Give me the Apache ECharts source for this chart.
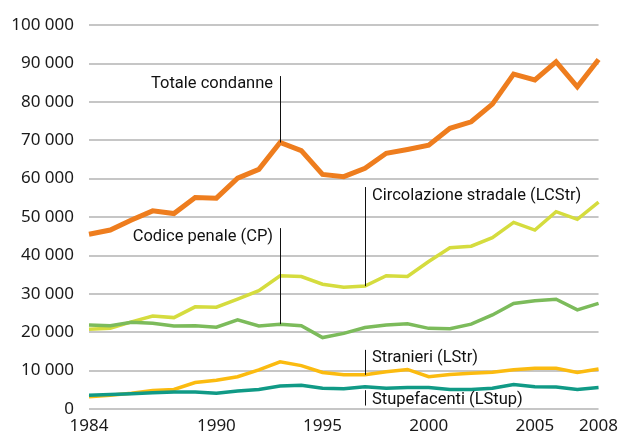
<!DOCTYPE html>
<html>
<head>
<meta charset="utf-8">
<script src="https://cdn.jsdelivr.net/npm/echarts@6/dist/echarts.min.js"></script>
<style>
  html, body { margin: 0; padding: 0; background: #fff; }
  #chart { width: 621px; height: 444px; }
</style>
</head>
<body>
<div id="chart"></div>
<script>
var years = ['1984','1985','1986','1987','1988','1989','1990','1991','1992','1993','1994','1995','1996',
             '1997','1998','1999','2000','2001','2002','2003','2004','2005','2006','2007','2008'];
var yearLabels = ['1984','1990','1995','2000','2005','2008'];

var totale = [45500,46600,49200,51600,50900,55100,54900,60100,62400,69400,67300,61100,60500,
              62700,66600,67600,68700,73100,74800,79400,87200,85700,90400,83900,91000];
var circolazione = [20750,21000,22700,24200,23800,26600,26500,28600,30800,34700,34500,32500,31700,
                    32000,34700,34500,38400,42000,42400,44600,48600,46600,51400,49400,53900];
var codicePenale = [21900,21700,22600,22300,21600,21700,21300,23200,21600,22100,21700,18600,19700,
                    21200,21900,22200,21000,20900,22100,24500,27500,28200,28600,25800,27500];
var stranieri = [3200,3600,4100,4800,5100,6900,7500,8400,10200,12300,11300,9500,8900,
                 8900,9700,10300,8400,9000,9300,9600,10200,10600,10600,9500,10400];
var stupefacenti = [3600,3800,4000,4200,4400,4400,4100,4700,5100,6000,6200,5400,5300,
                    5800,5400,5600,5600,5100,5100,5400,6400,5800,5700,5100,5600];

// condensed look of the annotations: Roboto is the narrowest installed face
var annoFont = "Roboto, 'Liberation Sans', sans-serif";

function note(year, from, to, textY, text, side) {
  return {
    markLine: {
      silent: true,
      symbol: 'none',
      lineStyle: { color: '#111', width: 1, type: 'solid' },
      label: { show: false },
      data: [[{ coord: [year, from] }, { coord: [year, to] }]]
    },
    markPoint: {
      silent: true,
      symbol: 'circle',
      symbolSize: 0,
      data: [{ coord: [year, textY] }],
      label: {
        show: true,
        position: side,
        distance: 7,
        formatter: text,
        color: '#111',
        fontSize: 16.5,
        fontFamily: annoFont
      }
    }
  };
}

function line(name, data, color, width, n) {
  var s = {
    name: name,
    type: 'line',
    data: data,
    symbol: 'none',
    lineStyle: { color: color, width: width, join: 'miter' },
    itemStyle: { color: color }
  };
  if (n) { s.markLine = n.markLine; s.markPoint = n.markPoint; }
  return s;
}

var chart = echarts.init(document.getElementById('chart'), null, { renderer: 'canvas' });

chart.setOption({
  animation: false,
  backgroundColor: '#fff',
  grid: { left: 89, right: 22, top: 25, bottom: 35, containLabel: false },
  xAxis: {
    type: 'category',
    data: years,
    boundaryGap: false,
    axisLine: { show: false },
    axisTick: { show: false },
    axisLabel: {
      interval: function (i, v) { return yearLabels.indexOf(v) >= 0; },
      margin: 9,
      color: '#1a1a1a',
      fontSize: 17,
      fontFamily: 'Noto Sans'
    },
    splitLine: { show: false }
  },
  yAxis: {
    type: 'value',
    min: 0,
    max: 100000,
    interval: 10000,
    axisLine: { show: false },
    axisTick: { show: false },
    axisLabel: {
      margin: 15,
      color: '#1a1a1a',
      fontSize: 17,
      fontFamily: 'Noto Sans',
      formatter: function (v) {
        return String(v).replace(/\B(?=(\d{3})+(?!\d))/g, ' ');
      }
    },
    splitLine: { show: true, lineStyle: { color: '#b3b3b3', width: 1.5 } }
  },
  series: [
    line('Circolazione stradale (LCStr)', circolazione, '#d5dc3e', 3.5,
         note('1997', 32000, 57800, 55500, 'Circolazione stradale (LCStr)', 'right')),
    line('Codice penale (CP)', codicePenale, '#7cbb5b', 3.5,
         note('1993', 22100, 47100, 44800, 'Codice penale (CP)', 'left')),
    line('Stranieri (LStr)', stranieri, '#fbbb10', 3.5,
         note('1997', 15400, 8900, 13300, 'Stranieri (LStr)', 'right')),
    line('Stupefacenti (LStup)', stupefacenti, '#109a86', 3.5,
         note('1997', 4900, 900, 2300, 'Stupefacenti (LStup)', 'right')),
    line('Totale condanne', totale, '#ee7d1e', 5,
         note('1993', 69400, 86700, 84600, 'Totale condanne', 'left'))
  ]
});
</script>
</body>
</html>
